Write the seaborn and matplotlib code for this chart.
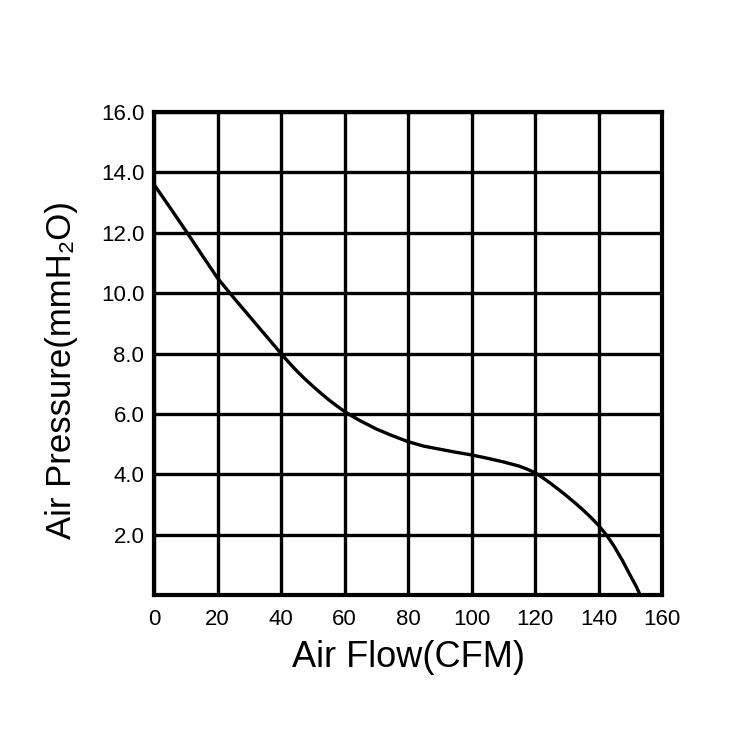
import matplotlib
matplotlib.use("Agg")
import matplotlib.pyplot as plt
import seaborn as sns
import pandas as pd

airflow = [0, 5, 10, 15, 20, 25, 30, 35, 40, 42.5, 45, 47.5, 50, 52.5, 55, 57.5,
           60, 62.5, 65, 70, 75, 80, 85, 90, 95, 100, 105, 110, 112.5, 115,
           117.5, 120, 122.5, 125, 127.5, 130, 132.5, 135, 137.5, 140, 142.5,
           145, 147.5, 150, 152, 153.1]
pressure = [13.6, 12.84, 12.07, 11.28, 10.5, 9.86, 9.24, 8.62, 8.0, 7.7, 7.42,
            7.16, 6.92, 6.69, 6.47, 6.27, 6.08, 5.92, 5.77, 5.5, 5.28, 5.08,
            4.93, 4.83, 4.73, 4.64, 4.53, 4.41, 4.34, 4.27, 4.17, 4.05, 3.88,
            3.69, 3.49, 3.28, 3.06, 2.83, 2.58, 2.31, 1.99, 1.6, 1.15, 0.65,
            0.26, 0.0]
x_ticks = [0, 20, 40, 60, 80, 100, 120, 140, 160]
x_ticklabels = ["0", "20", "40", "60", "80", "100", "120", "140", "160"]
y_ticks = [2, 4, 6, 8, 10, 12, 14, 16]
y_ticklabels = ["2.0", "4.0", "6.0", "8.0", "10.0", "12.0", "14.0", "16.0"]

sns.set_style("white")
plt.rcParams['font.family'] = ['Liberation Sans', 'DejaVu Sans']

df = pd.DataFrame({"Air Flow": airflow, "Air Pressure": pressure})

fig = plt.figure(figsize=(7.47, 7.47), dpi=100)
ax = fig.add_axes([154/747, 1 - 595/747, 508/747, 483/747])

sns.lineplot(data=df, x="Air Flow", y="Air Pressure", ax=ax, color="black",
             linewidth=2.4, zorder=3)
for l in ax.lines:
    l.set_solid_joinstyle('round')

ax.set_xlim(0, 160)
ax.set_ylim(0, 16)
ax.set_xticks(x_ticks)
ax.set_xticklabels(x_ticklabels, fontsize=16)
ax.set_yticks(y_ticks)
ax.set_yticklabels(y_ticklabels, fontsize=16)
ax.tick_params(axis='both', length=0, colors='black')
ax.tick_params(axis='x', pad=10)
ax.tick_params(axis='y', pad=7)

ax.grid(True, color='black', linewidth=2.4, zorder=1)
ax.set_axisbelow(True)
for s in ax.spines.values():
    s.set_visible(True)
    s.set_color('black')
    s.set_linewidth(3.0)

ax.set_xlabel("Air Flow(CFM)", fontsize=26, labelpad=7, color='black')
ax.set_ylabel("Air Pressure(mmH\u2082O)", fontsize=25, color='black')
ax.yaxis.set_label_coords(-0.15, 0.466)

fig.savefig("out.png", dpi=100, facecolor='white')
